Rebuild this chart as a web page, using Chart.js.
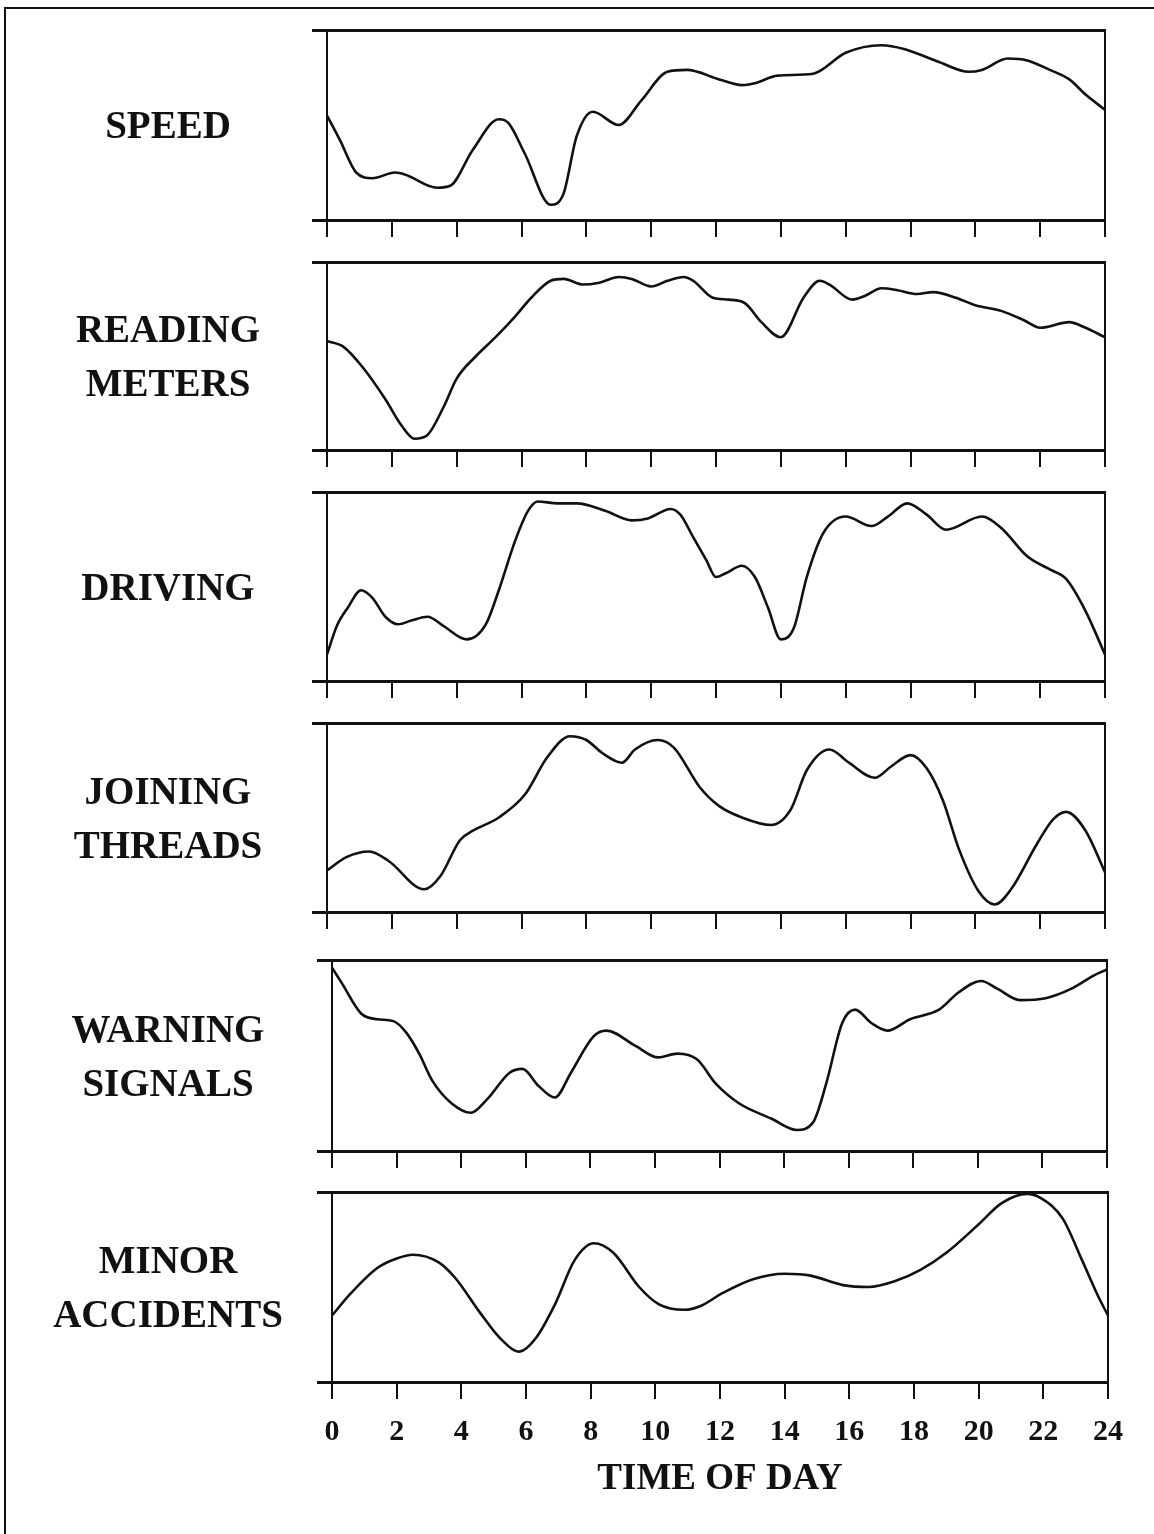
<!DOCTYPE html>
<html lang="en">
<head>
<meta charset="UTF-8">
<title>Time of Day</title>
<script src="https://cdn.jsdelivr.net/npm/chart.js"></script>
<style>
body{margin:0;background:#fff;width:1154px;height:1534px;position:relative;overflow:hidden;font-family:"Liberation Serif",serif}
.frame{position:absolute;left:4px;top:7px;width:1160px;height:1540px;border-top:2px solid #111;border-left:2px solid #111}
.panel{position:absolute;left:0}
.label{position:absolute;left:48px;width:240px;text-align:center;font-weight:700;font-size:39px;line-height:54px;color:#111}
</style>
</head>
<body>
<div class="frame"></div>
<script>
// values: 0 = bottom of each box, 100 = top
const speedHours=[0,0.4,0.9,1.4,2.1,2.4,3.4,3.8,4.5,5.3,5.6,6.1,6.9,7.3,7.7,8.2,9.0,9.7,10.5,11.1,12.1,12.8,13.2,13.9,15.0,16.0,17.1,17.8,18.9,19.8,20.2,21.0,21.6,22.3,22.9,23.4,24];
const speedValues=[55,42,25,22,25,24,17,18,37,53,51,35,8,14,44,57,50,63,78,79,74,71,72,76,77,88,92,90,83,78,79,85,84,79,74,66,58];

const readingHours=[0,0.5,1.1,1.8,2.3,2.7,3.1,3.6,4.0,4.6,5.2,5.8,6.3,6.9,7.3,7.9,8.4,9.0,9.4,10.0,10.5,11.0,11.3,11.9,12.4,12.9,13.4,14.0,14.7,15.2,15.5,16.2,16.6,17.1,17.6,18.2,18.7,19.4,20.0,20.8,21.5,22.0,22.9,23.4,24];
const readingValues=[58,55,44,27,13,6,8,23,38,50,60,71,81,90,91,88,89,92,91,87,90,92,90,81,80,78,68,60,81,90,88,80,82,86,85,83,84,81,77,74,69,65,68,65,60];

const drivingHours=[0,0.3,0.65,1.05,1.4,1.8,2.2,2.6,3.1,3.6,4.3,4.9,5.3,5.8,6.2,6.5,7.1,7.7,8.6,9.4,9.9,10.6,10.9,11.3,11.7,12.0,12.3,12.8,13.2,13.6,14.0,14.4,14.8,15.3,16.0,16.8,17.3,17.9,18.5,19.1,20.2,20.8,21.6,22.3,22.8,23.4,24];
const drivingValues=[14,29,39,48,44,34,30,32,34,29,22,30,48,74,90,95,94,94,90,85,86,91,88,76,64,55,57,61,55,39,22,28,55,78,87,82,87,94,88,80,87,81,66,59,54,37,14];

const threadsHours=[0,0.6,1.3,1.9,3.0,3.5,4.1,4.5,5.3,6.1,6.8,7.5,8.0,8.5,9.1,9.5,10.2,10.7,11.5,12.1,12.8,13.7,14.3,14.8,15.5,16.1,16.9,17.4,18.0,18.5,19.0,19.5,20.1,20.6,21.1,21.9,22.4,22.8,23.4,24];
const threadsValues=[22,29,32,27,12,19,38,43,50,62,82,93,91,84,79,86,91,87,66,56,50,46,54,75,86,79,71,77,83,76,59,33,11,4,12,36,49,53,43,21];

const warningHours=[0,0.3,0.9,1.4,1.9,2.3,2.7,3.1,3.7,4.3,4.8,5.5,5.9,6.4,6.9,7.4,8.1,8.5,9.4,10.1,10.7,11.3,11.9,12.6,13.6,14.4,14.9,15.3,15.8,16.2,16.7,17.2,17.9,18.8,19.4,20.1,20.6,21.3,22.1,22.9,23.6,24];
const warningValues=[96,88,72,69,68,62,51,37,25,20,27,41,43,34,28,41,60,63,55,49,51,48,35,25,17,11,15,35,67,74,67,63,69,74,83,89,85,79,80,85,92,95];

const accidentHours=[0,0.6,1.4,2.0,2.5,3.3,3.8,4.6,5.2,5.8,6.3,6.9,7.5,8.1,8.7,9.5,10.1,10.9,11.4,12.1,13.0,14.0,14.8,15.8,16.6,17.4,18.2,19.0,20.0,20.7,21.5,21.9,22.6,23.2,23.7,24];
const accidentValues=[35,47,60,65,67,63,55,36,23,16,23,41,64,73,68,50,41,38,40,47,54,57,56,51,50,53,59,68,83,94,99,97,86,64,45,35];

const panels=[
  {name:['SPEED'],hours:speedHours,values:speedValues,top:30,bottom:220,left:327,right:1105},
  {name:['READING','METERS'],hours:readingHours,values:readingValues,top:262,bottom:450,left:327,right:1105},
  {name:['DRIVING'],hours:drivingHours,values:drivingValues,top:492,bottom:681,left:327,right:1105},
  {name:['JOINING','THREADS'],hours:threadsHours,values:threadsValues,top:723,bottom:912,left:327,right:1105},
  {name:['WARNING','SIGNALS'],hours:warningHours,values:warningValues,top:960,bottom:1151,left:332,right:1107},
  {name:['MINOR','ACCIDENTS'],hours:accidentHours,values:accidentValues,top:1192,bottom:1382,left:332,right:1108}
];

const ink='#111';
const serif='"Liberation Serif", serif';

panels.forEach((p,i)=>{
  const last=i===panels.length-1;
  const below=last?124:20;
  const cv=document.createElement('canvas');
  cv.width=1154; cv.height=p.bottom-p.top+6+below;
  cv.className='panel'; cv.style.top=(p.top-6)+'px';
  document.body.appendChild(cv);

  const lab=document.createElement('div');
  lab.className='label';
  lab.innerHTML=p.name.join('<br>');
  lab.style.top=((p.top+p.bottom)/2-p.name.length*27)+'px';
  document.body.appendChild(lab);

  new Chart(cv,{
    type:'line',
    data:{datasets:[{
      data:p.hours.map((h,k)=>({x:h,y:p.values[k]})),
      borderColor:ink,borderWidth:2.6,pointRadius:0,
      cubicInterpolationMode:'monotone',fill:false
    }]},
    options:{
      responsive:false,animation:false,devicePixelRatio:1,
      layout:{padding:{top:6,left:0,right:0,bottom:0}},
      plugins:{legend:{display:false},tooltip:{enabled:false}},
      scales:{
        x:{type:'linear',position:'bottom',min:0,max:24,
          afterFit:s=>{s.height=below;},
          border:{color:ink,width:3},
          grid:{drawOnChartArea:false,tickLength:17,color:ink,lineWidth:2},
          ticks:{display:last,stepSize:2,padding:15,color:ink,font:{family:serif,weight:'bold',size:30}},
          title:{display:last,text:'TIME OF DAY',color:ink,font:{family:serif,weight:'bold',size:37},padding:{top:0,bottom:4}}},
        xTop:{type:'linear',position:'top',min:0,max:24,
          afterFit:s=>{s.height=0;},
          border:{color:ink,width:3},
          grid:{display:false},ticks:{display:false}},
        y:{type:'linear',position:'left',min:0,max:100,
          afterFit:s=>{s.width=p.left;},
          border:{color:ink,width:2},
          grid:{drawOnChartArea:false,tickLength:15,color:ink,lineWidth:3},
          ticks:{display:false,stepSize:100}},
        yRight:{type:'linear',position:'right',min:0,max:100,
          afterFit:s=>{s.width=1154-p.right;},
          border:{color:ink,width:2},
          grid:{display:false},ticks:{display:false}}
      }
    }
  });
});
</script>
</body>
</html>
